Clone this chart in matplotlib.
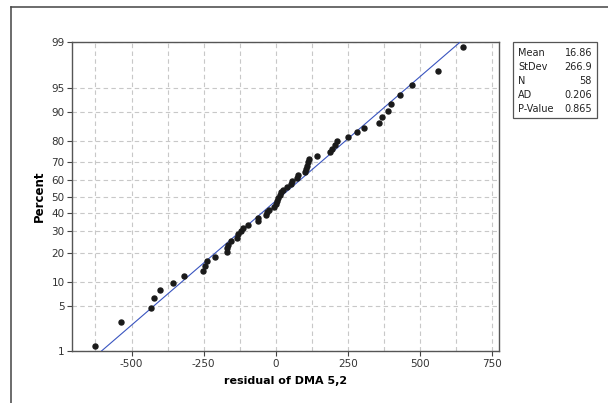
import numpy as np
import matplotlib
matplotlib.use("Agg")
import matplotlib.pyplot as plt
from matplotlib.lines import Line2D
from statistics import NormalDist

# sorted residuals
residuals = [-628, -537, -433, -421, -400, -356, -317, -252, -245, -240,
             -209, -170, -168, -164, -154, -135, -130, -120, -112, -97,
             -61, -60, -33, -30, -23, -5, -1, 3, 8, 13,
             18, 25, 39, 53, 56, 72, 77, 100, 104, 107,
             110, 115, 142, 188, 196, 206, 213, 249, 283, 307,
             359, 369, 390, 400, 431, 473, 561, 650]
mean, stdev = 16.86, 266.9
stats_names = ["Mean", "StDev", "N", "AD", "P-Value"]
stats_values = ["16.86", "266.9", "58", "0.206", "0.865"]
y_ticks = [1, 5, 10, 20, 30, 40, 50, 60, 70, 80, 90, 95, 99]
x_ticks = [-500, -250, 0, 250, 500, 750]
x_grid = [-625, -500, -375, -250, -125, 0, 125, 250, 375, 500, 625, 750]

nd = NormalDist()
ppf = np.vectorize(lambda p: nd.inv_cdf(min(max(p / 100.0, 1e-9), 1 - 1e-9)), otypes=[float])
cdf = np.vectorize(lambda z: nd.cdf(z) * 100.0, otypes=[float])

plt.rcParams["font.family"] = "DejaVu Sans"
plt.rcParams["axes.unicode_minus"] = False

n = len(residuals)
ranks = np.arange(1, n + 1)
percent = (ranks - 0.3) / (n + 0.4) * 100  # median ranks, as Minitab does

fig = plt.figure(figsize=(6.08, 4.03), dpi=100)
ax = fig.add_axes([0.119, 0.129, 0.702, 0.766])
ax.set_yscale("function", functions=(ppf, cdf))

# fitted line
p_line = np.array([1.0, 99.0])
x_line = mean + stdev * ppf(p_line)
ax.plot(x_line, p_line, color="#3a55c0", lw=0.8, zorder=3)
ax.plot(residuals, percent, "o", color="#1a1a1a", ms=3.6, zorder=4)

ax.set_xlim(-705, 774)
ax.set_ylim(1, 99)
ax.set_yticks(y_ticks)
ax.set_yticklabels([str(t) for t in y_ticks])
ax.yaxis.set_minor_locator(matplotlib.ticker.NullLocator())
ax.set_xticks(x_ticks)
ax.set_xticks(x_grid, minor=True)

ax.grid(True, which="both", axis="x", color="#c8c8c8", ls=(0, (4, 3)), lw=0.8)
ax.grid(True, which="major", axis="y", color="#c8c8c8", ls=(0, (4, 3)), lw=0.8)
ax.set_axisbelow(True)
ax.tick_params(which="major", direction="out", length=3.5, width=0.8,
               color="#444444", labelsize=7.5, labelcolor="#333333", pad=2)
ax.tick_params(which="minor", length=0)
for s in ax.spines.values():
    s.set_color("#555555")
    s.set_linewidth(1.0)

ax.set_xlabel("residual of DMA 5,2", fontsize=8, fontweight="bold", labelpad=5)
ax.set_ylabel("Percent", fontsize=8.5, fontweight="bold", labelpad=4)

# stats box
bx0, bx1 = 513 / 608, 597 / 608
by0, by1 = 1 - 118 / 403, 1 - 42 / 403
fig.add_artist(plt.Rectangle((bx0, by0), bx1 - bx0, by1 - by0, transform=fig.transFigure,
                             fill=False, ec="#555555", lw=0.9))
for i, (nm, val) in enumerate(zip(stats_names, stats_values)):
    yy = 1 - (53 + 14 * i) / 403
    fig.text(518 / 608, yy, nm, fontsize=7, va="center", ha="left", color="#222222")
    fig.text(592 / 608, yy, val, fontsize=7, va="center", ha="right", color="#222222")

# outer frame lines (top and left)
fig.add_artist(Line2D([11 / 608, 1], [1 - 7 / 403, 1 - 7 / 403], transform=fig.transFigure,
                      color="#444444", lw=1.1))
fig.add_artist(Line2D([11 / 608, 11 / 608], [0, 1 - 7 / 403], transform=fig.transFigure,
                      color="#444444", lw=1.1))

fig.savefig("out.png", dpi=100)
